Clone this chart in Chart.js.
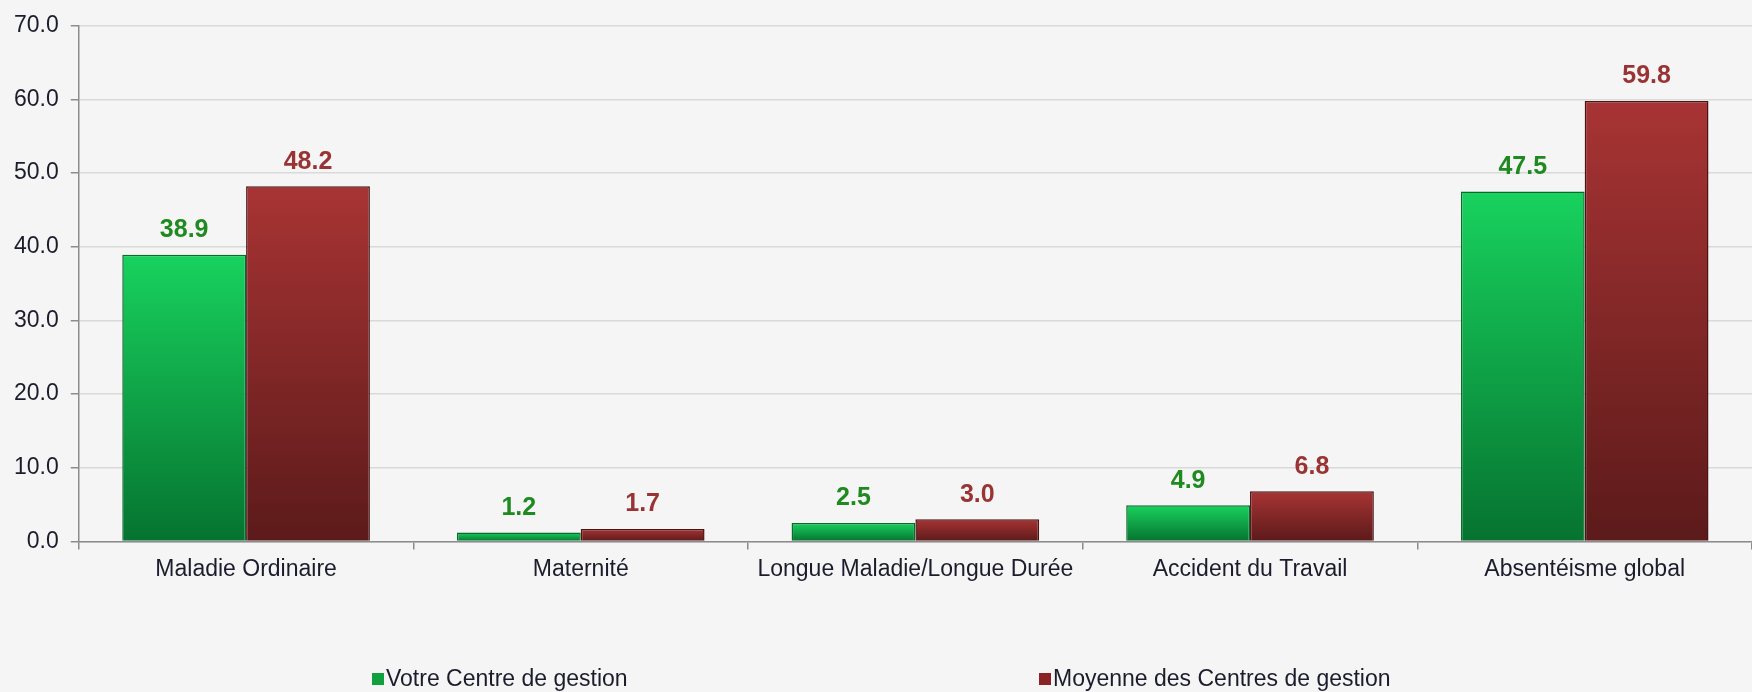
<!DOCTYPE html>
<html>
<head>
<meta charset="utf-8">
<script src="https://cdn.jsdelivr.net/npm/chart.js@4/dist/chart.umd.min.js"></script>
<style>
  html, body { margin: 0; padding: 0; background: #f5f5f5; }
  #wrap { position: relative; width: 1752px; height: 692px; }
  #legend { position: absolute; top: 665px; left: 0; width: 1752px; height: 28px;
            font-family: "Liberation Sans", Arial, sans-serif; font-size: 23px; color: #1c1c2c; }
  .item { position: absolute; top: 0; white-space: nowrap; }
  .box { display: inline-block; width: 12px; height: 12px; margin-right: 2px; vertical-align: 1px; }
</style>
</head>
<body>
<div id="wrap">
  <canvas id="barChart" width="1752" height="692"></canvas>
  <div id="legend"></div>
</div>
<script>
const categories = ["Maladie Ordinaire", "Maternité", "Longue Maladie/Longue Durée", "Accident du Travail", "Absentéisme global"];
const votreCentre = [38.9, 1.2, 2.5, 4.9, 47.5];
const moyenneCentres = [48.2, 1.7, 3.0, 6.8, 59.8];
const seriesNames = ["Votre Centre de gestion", "Moyenne des Centres de gestion"];
const yTicks = [0, 10, 20, 30, 40, 50, 60, 70];

const FONT = "'Liberation Sans', Arial, sans-serif";

// per-bar vertical gradient, light at the top, darker at the base
function barGradient(light, dark) {
    return function(ctx) {
        const chart = ctx.chart;
        const y = chart.scales.y;
        if (!y || ctx.raw === undefined) return light;
        const top = y.getPixelForValue(ctx.raw);
        const bottom = y.getPixelForValue(0);
        if (!isFinite(top) || !isFinite(bottom) || bottom - top < 1) return light;
        const g = chart.ctx.createLinearGradient(0, top, 0, bottom);
        g.addColorStop(0, light);
        g.addColorStop(1, dark);
        return g;
    };
}

const valueLabels = {
    id: 'valueLabels',
    afterDatasetsDraw(chart) {
        const c = chart.ctx;
        c.save();
        c.font = "bold 25px " + FONT;
        c.textAlign = 'center';
        c.textBaseline = 'bottom';
        chart.data.datasets.forEach(function(ds, i) {
            chart.getDatasetMeta(i).data.forEach(function(bar, j) {
                c.fillStyle = ds.labelColor;
                c.fillText(ds.data[j].toFixed(1), bar.x, bar.y - 12);
            });
        });
        c.restore();
    }
};

const CHART = document.getElementById('barChart').getContext('2d');
window.onload = function() {
    let barChart = new Chart(CHART, {
        type: 'bar',
        data: {
            labels: categories,
            datasets: [{
                label: seriesNames[0],
                data: votreCentre,
                backgroundColor: barGradient('#18d25e', '#067330'),
                borderColor: '#0b6a2c',
                borderWidth: 1.5,
                labelColor: '#1f8a1f',
                legendColor: '#10a040',
                categoryPercentage: 0.74,
                barPercentage: 1.0
            }, {
                label: seriesNames[1],
                data: moyenneCentres,
                backgroundColor: barGradient('#a83434', '#5c1a1a'),
                borderColor: '#4a1414',
                borderWidth: 1.5,
                labelColor: '#9a3434',
                legendColor: '#8a2424',
                categoryPercentage: 0.74,
                barPercentage: 1.0
            }]
        },
        options: {
            responsive: false,
            animation: false,
            layout: { padding: { left: 2, right: -9, top: 2, bottom: 103 } },
            plugins: {
                legend: { display: false },
                tooltip: { enabled: false }
            },
            scales: {
                x: {
                    grid: { display: true, drawOnChartArea: false, offset: true, tickLength: 8, color: '#8c8c8c', lineWidth: 1.5 },
                    border: { color: '#8c8c8c', width: 1.5 },
                    ticks: { color: '#1c1c2c', font: { family: FONT, size: 23 }, padding: 6, maxRotation: 0, autoSkip: false }
                },
                y: {
                    min: yTicks[0],
                    max: yTicks[yTicks.length - 1],
                    afterBuildTicks: function(axis) { axis.ticks = yTicks.map(function(v) { return { value: v }; }); },
                    grid: { color: '#d9d9d9', lineWidth: 1.5, tickLength: 8, tickColor: '#8c8c8c' },
                    border: { color: '#8c8c8c', width: 1.5 },
                    ticks: {
                        color: '#1c1c2c', font: { family: FONT, size: 23 }, padding: 12,
                        callback: function(v) { return Number(v).toFixed(1); }
                    }
                }
            }
        },
        plugins: [valueLabels]
    });

    // legend below the chart, spread as in the original
    const legend = document.getElementById('legend');
    const lefts = [372, 1039];
    barChart.data.datasets.forEach(function(ds, i) {
        const item = document.createElement('span');
        item.className = 'item';
        item.style.left = lefts[i] + 'px';
        item.innerHTML = '<span class="box" style="background:' + ds.legendColor + '"></span>' + ds.label;
        legend.appendChild(item);
    });
};
</script>
</body>
</html>
